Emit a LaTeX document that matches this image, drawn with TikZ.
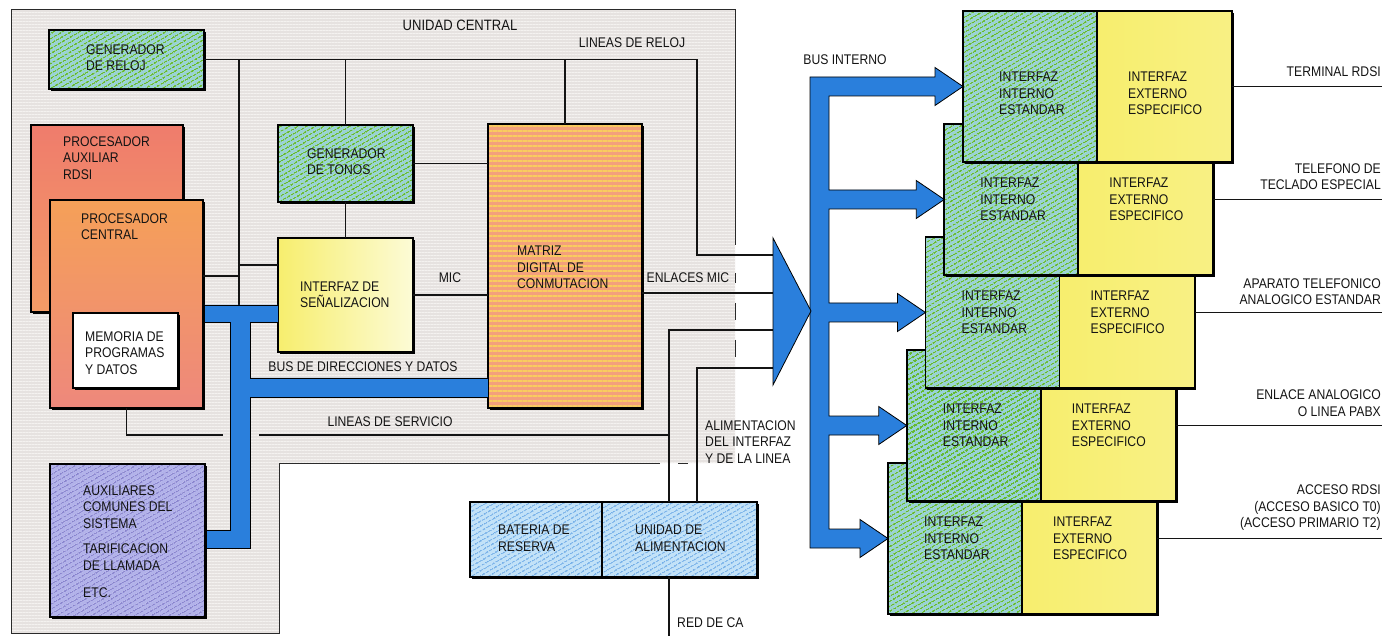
\documentclass[tikz,border=0pt]{standalone}
\usepackage{fontspec}
\setmainfont{Liberation Sans}[FakeStretch=0.87]
\usepackage{tikz}
\usetikzlibrary{positioning, shadows, patterns.meta}
\definecolor{my_frame}{HTML}{E6E2E0}
\definecolor{my_frameline}{HTML}{F4F2F0}
\definecolor{my_border}{HTML}{2A2A2A}
\definecolor{my_text}{HTML}{141414}
\definecolor{my_blue}{HTML}{2A7FDC}
\definecolor{my_greenbase}{HTML}{98D2D6}
\definecolor{my_green}{HTML}{66BA30}
\definecolor{my_purplebase}{HTML}{B2B2EA}
\definecolor{my_purple}{HTML}{8580CC}
\definecolor{my_lbluebase}{HTML}{C2E2F8}
\definecolor{my_lblue}{HTML}{72AEE8}
\definecolor{my_auxtop}{HTML}{EF7C6C}
\definecolor{my_auxbot}{HTML}{F49C66}
\definecolor{my_cputop}{HTML}{F5A058}
\definecolor{my_cpubot}{HTML}{EE887C}
\definecolor{my_matbase}{HTML}{F3A07C}
\definecolor{my_matline}{HTML}{F9CC5E}
\definecolor{my_yellow}{HTML}{F7EE6E}
\definecolor{my_paleyellow}{HTML}{FCFBD6}
\newcommand{\diafont}{\fontsize{14}{16.5}\selectfont}

\begin{document}
\begin{tikzpicture}[
    x=1pt, y=-1pt,
    box/.style={draw=black, line width=1.6pt, inner sep=0pt, outer sep=0pt,
        drop shadow={shadow xshift=1.8pt, shadow yshift=-1.8pt, opacity=1, fill=black}},
    greenbox/.style={box, preaction={fill=my_greenbase},
        pattern={Lines[angle=30, distance=4pt, line width=1.8pt]}, pattern color=my_green},
    purplebox/.style={box, preaction={fill=my_purplebase},
        pattern={Lines[angle=30, distance=4pt, line width=1.5pt]}, pattern color=my_purple},
    lbluebox/.style={box, preaction={fill=my_lbluebase},
        pattern={Lines[angle=30, distance=4pt, line width=1.5pt]}, pattern color=my_lblue},
    yelbox/.style={box, left color=my_yellow, right color=my_paleyellow},
    extbox/.style={box, left color=my_yellow, middle color=my_paleyellow, right color=my_yellow!85!white},
    txt/.style={inner sep=0pt, align=left, anchor=west, font=\diafont, text=my_text},
    wire/.style={draw=my_text, line width=1.1pt},
    bus/.style={fill=my_blue, draw=black, line width=0.8pt}
]
\useasboundingbox (0,0) rectangle (1382,636);

% -------- Unidad central (frame) ----------------------------
\path[preaction={fill=my_frame},
      pattern={Lines[angle=0, distance=3pt, line width=0.9pt]}, pattern color=my_frameline]
    (11,10) -- (735,10) -- (735,463) -- (279,463) -- (279,633) -- (11,633) -- cycle;
\draw[my_border, line width=1pt]
    (735,245) -- (735,10) -- (11,10) -- (11,633) -- (279,633) -- (279,463) -- (660,463);
\draw[my_border, line width=1pt] (678,463) -- (688,463);
\foreach \ya/\yb in {273/283, 303/320, 340/357}
    \draw[my_border, line width=1pt] (735,\ya) -- (735,\yb);

% -------- Blocks of the central unit -------------------------
\node[greenbox, minimum width=155pt, minimum height=59pt] (reloj) at (126.5,59.5) {};
\node[box, top color=my_auxtop, bottom color=my_auxbot,
      minimum width=152pt, minimum height=187pt] (procaux) at (107,218.5) {};
\node[box, top color=my_cputop, bottom color=my_cpubot,
      minimum width=153pt, minimum height=208pt] (proccen) at (126.5,304) {};
\node[box, fill=white, line width=1.2pt,
      minimum width=105pt, minimum height=75pt] (memoria) at (125.5,350.5) {};
\node[greenbox, minimum width=135pt, minimum height=77pt] (tonos) at (345.5,163.5) {};
\node[yelbox, minimum width=135pt, minimum height=114pt] (senal) at (345.5,295) {};
\node[box, preaction={fill=my_matbase},
      pattern={Lines[angle=0, distance=5pt, line width=2pt]}, pattern color=my_matline,
      minimum width=154pt, minimum height=284pt] (matriz) at (565,266) {};
\node[purplebox, minimum width=155pt, minimum height=153pt] (auxil) at (127.5,540.5) {};

% -------- Power supply ---------------------------------------
\node[lbluebox, minimum width=132pt, minimum height=75pt] (bateria) at (536,539.5) {};
\node[lbluebox, minimum width=155pt, minimum height=75pt, right=0pt of bateria] (alim) {};

% Block texts
\node[txt] (reloj-t) at ([shift={(37,-2)}]reloj.west) {GENERADOR\\DE RELOJ};
\node[txt] (procaux-t) at ([shift={(32,33)}]procaux.north west) {PROCESADOR\\AUXILIAR\\RDSI};
\node[txt] (proccen-t) at ([shift={(31,26.5)}]proccen.north west) {PROCESADOR\\CENTRAL};
\node[txt] (memoria-t) at ([shift={(12,2.5)}]memoria.west) {MEMORIA DE\\PROGRAMAS\\Y DATOS};
\node[txt] (tonos-t) at ([shift={(29,-2)}]tonos.west) {GENERADOR\\DE TONOS};
\node[txt] (senal-t) at ([shift={(22,0)}]senal.west) {INTERFAZ DE\\SEÑALIZACION};
\node[txt] (matriz-t) at ([shift={(29,1.5)}]matriz.west) {MATRIZ\\DIGITAL DE\\CONMUTACION};
\node[txt] (auxil-t) at ([shift={(33,1)}]auxil.west)
    {AUXILIARES\\COMUNES DEL\\SISTEMA\\[9pt]TARIFICACION\\DE LLAMADA\\[11pt]ETC.};
\node[txt] (bateria-t) at ([shift={(28,-1)}]bateria.west) {BATERIA DE\\RESERVA};
\node[txt] (alim-t) at ([shift={(33,-1)}]alim.west) {UNIDAD DE\\ALIMENTACION};

% -------- Lines of the central unit --------------------------
\coordinate (tin1) at (773,255);
\coordinate (tin2) at (773,293);
\coordinate (tin3) at (773,330);
\coordinate (tin4) at (773,368);
\coordinate (clk)  at (697,59.5);
\coordinate (dbus) at (239,305);
\coordinate (c265) at (239,265);
\coordinate (c276) at (239,276);
\coordinate (sv1)  at (223,435);
\coordinate (sv2)  at (259,435);
\coordinate (pw1)  at (669,502);
\coordinate (pw2)  at (697,502);
\coordinate (redca) at (669,636);
\coordinate (rim)  at (1382,0);

% clock lines
\draw[wire] (reloj.east) -- (clk) |- (tin1);
\draw[wire] (reloj.east -| dbus) -- (dbus);
\draw[wire] (tonos.north |- clk) -- (tonos.north);
\draw[wire] (matriz.north |- clk) -- (matriz.north);
\draw[wire] (tonos.south) -- (senal.north);
\draw[wire] (tonos.east) -- (tonos.east -| matriz.west);
% MIC
\draw[wire] (senal.east) -- (senal.east -| matriz.west);
\draw[wire] (proccen.east |- c276) -- (c276);
\draw[wire] (c265) -- (c265 -| senal.west);
% enlaces MIC (thick)
\draw[wire, line width=2.3pt] (matriz.east |- tin2) -- (tin2);
% service lines and power feed
\draw[wire] (proccen.south) |- (sv1);
\draw[wire] (sv2) -- (sv2 -| pw1);
\draw[wire] (pw1) |- (tin3);
\draw[wire] (pw2) |- (tin4);
\draw[wire] (pw1 |- alim.south) -- (redca);

% -------- Address and data bus --------------------------------
\filldraw[bus] (204,305) -- (278,305) -- (278,322) -- (250,322) -- (250,378)
    -- (488,378) -- (488,397) -- (250,397) -- (250,548) -- (206,548) -- (206,530)
    -- (230,530) -- (230,322) -- (204,322) -- cycle;

% Line labels
\node[txt, anchor=center, font=\fontsize{15}{18}\selectfont] (lunidad) at (460,25) {UNIDAD CENTRAL};
\node[txt, anchor=center] (lreloj) at (632,43) {LINEAS DE RELOJ};
\node[txt, anchor=center] (lmic) at (450,278) {MIC};
\node[txt, anchor=center] (lenlaces) at (688,278) {ENLACES MIC};
\node[txt, anchor=center] (ldir) at (363,367) {BUS DE DIRECCIONES Y DATOS};
\node[txt, anchor=center] (lserv) at (390,422) {LINEAS DE SERVICIO};
\node[txt] (lalim) at (705,442) {ALIMENTACION\\DEL INTERFAZ\\Y DE LA LINEA};
\node[txt] (lred) at (677,623) {RED DE CA};

% -------- Line interfaces (drawn bottom first) ----------------
\foreach \i/\dy in {4/0, 3/0, 2/0, 1/0, 0/7} {
    \node[greenbox, minimum width=134pt, minimum height=151pt]
        (ii\i) at ({963-18.75*\i+67},{86.5+113*\i}) {};
    \node[extbox, minimum width=135pt, minimum height=151pt, right=0pt of ii\i] (ie\i) {};
    \node[txt] (iit\i) at ([shift={(36,\dy)}]ii\i.west) {INTERFAZ\\INTERNO\\ESTANDAR};
    \node[txt] (iet\i) at ([shift={(31,\dy)}]ie\i.west) {INTERFAZ\\EXTERNO\\ESPECIFICO};
    \draw[wire] (ie\i.east) -- (ie\i.east -| rim);
}

% -------- Internal bus ----------------------------------------
\filldraw[bus] (810,77)
    \foreach \i in {0,...,4} {
        -- (829,{86.5+113*\i-9.5}) -- ([shift={(-28,-9.5)}]ii\i.west)
        -- ([shift={(-28,-19)}]ii\i.west) -- (ii\i.west)
        -- ([shift={(-28,19)}]ii\i.west) -- ([shift={(-28,9.5)}]ii\i.west)
        -- (829,{86.5+113*\i+9.5})
    } -- (810,548) -- cycle;
\coordinate (tri1) at (773,238);
\coordinate (tri2) at (773,385);
\coordinate (tri3) at (811,311);
\filldraw[bus] (tri1) -- (tri3) -- (tri2) -- cycle;
\node[txt, anchor=center] (lbus) at (845,60) {BUS INTERNO};

% Terminal labels
\foreach \i/\ly/\txt in {0/72/{TERMINAL RDSI},
        1/176.5/{TELEFONO DE\\TECLADO ESPECIAL},
        2/291.5/{APARATO TELEFONICO\\ANALOGICO ESTANDAR},
        3/403/{ENLACE ANALOGICO\\O LINEA PABX},
        4/508/{ACCESO RDSI\\(ACCESO BASICO T0)\\(ACCESO PRIMARIO T2)}}
    \node[txt, anchor=east, align=right] (out\i) at (1381,\ly) {\txt};

\end{tikzpicture}
\end{document}
